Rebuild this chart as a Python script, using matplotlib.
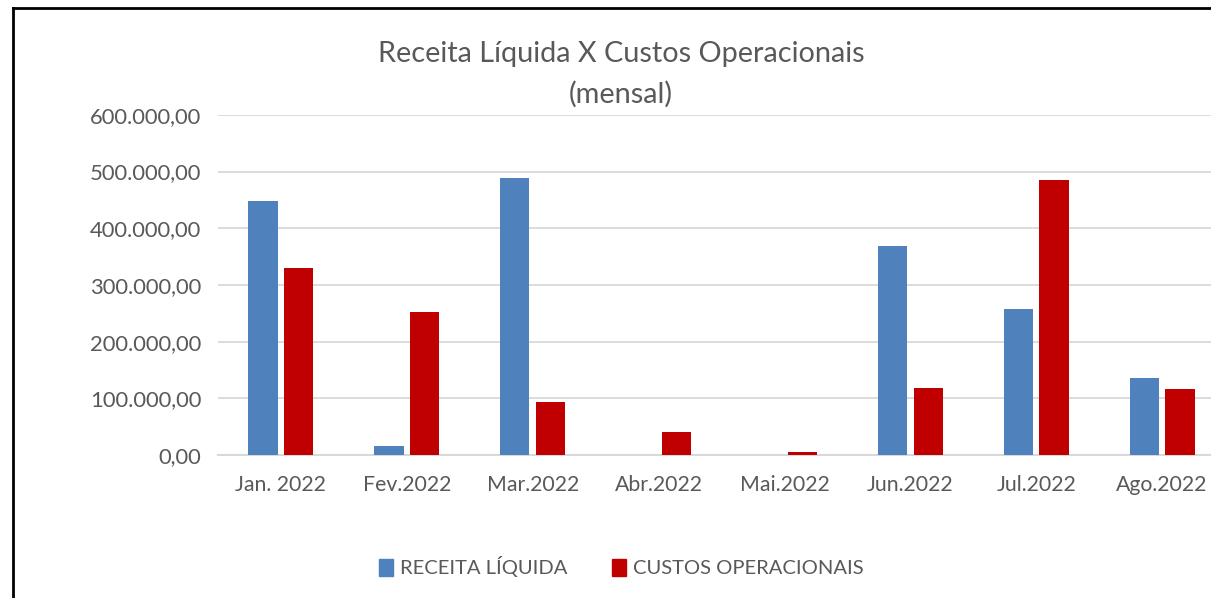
import matplotlib
matplotlib.use("Agg")
import matplotlib.pyplot as plt
import numpy as np
from matplotlib.ticker import FuncFormatter
from matplotlib.patches import Rectangle
from matplotlib.lines import Line2D

categories = ["Jan. 2022", "Fev.2022", "Mar.2022", "Abr.2022", "Mai.2022", "Jun.2022", "Jul.2022", "Ago.2022"]
receita = [448000, 16000, 489000, 0, 0, 368000, 258000, 136000]
custos = [330000, 252000, 93000, 40000, 5000, 118000, 485000, 116000]
yticks = [0, 100000, 200000, 300000, 400000, 500000, 600000]

plt.rcParams['font.family'] = ['Lato', 'DejaVu Sans']
fig = plt.figure(figsize=(12.11, 5.98), dpi=100)
ax = fig.add_axes([0.18, 0.239, 0.8316, 0.569])

x = np.arange(len(categories))
w = 0.232
gap = 0.052
ax.bar(x - (w + gap) / 2, receita, w, color="#4f81bd", label="RECEITA LÍQUIDA", zorder=3)
ax.bar(x + (w + gap) / 2, custos, w, color="#c00000", label="CUSTOS OPERACIONAIS", zorder=3)

ax.set_xlim(-0.5, len(categories) - 0.5)
ax.set_ylim(0, 600000)
ax.set_yticks(yticks)

def fmt(v, pos):
    s = f"{v:,.2f}"
    return s.replace(",", "X").replace(".", ",").replace("X", ".")

ax.yaxis.set_major_formatter(FuncFormatter(fmt))
ax.set_xticks(x)
ax.set_xticklabels(categories)
ax.tick_params(axis='both', length=0, labelcolor="#595959")
ax.tick_params(axis='x', pad=14, labelsize=15.3)
ax.tick_params(axis='y', pad=12, labelsize=15.8)
ax.grid(axis='y', color="#d9d9d9", linewidth=1.3, zorder=0)
for s in ["top", "right", "left"]:
    ax.spines[s].set_visible(False)
ax.spines["bottom"].set_color("#d9d9d9")
ax.spines["bottom"].set_linewidth(1.5)

fig.text(0.513, 0.91, "Receita Líquida X Custos Operacionais", ha="center", va="center",
         fontsize=20.8, color="#595959")
fig.text(0.513, 0.843, "(mensal)", ha="center", va="center", fontsize=20.8, color="#595959")

leg = fig.legend(handles=[Rectangle((0, 0), 1, 1, color="#4f81bd"), Rectangle((0, 0), 1, 1, color="#c00000")],
                 labels=["RECEITA LÍQUIDA", "CUSTOS OPERACIONAIS"],
                 loc="center", bbox_to_anchor=(0.513, 0.052), ncol=2, frameon=False,
                 fontsize=14.5, handlelength=0.7, handleheight=0.9, handletextpad=0.35,
                 columnspacing=2.2)
for t in leg.get_texts():
    t.set_color("#595959")

# outer chart border (left and top)
fig.add_artist(Line2D([0.0105, 0.0105], [0.0, 0.986], color="black", linewidth=2, transform=fig.transFigure))
fig.add_artist(Line2D([0.0105, 1.0], [0.986, 0.986], color="black", linewidth=2, transform=fig.transFigure))

fig.savefig("out.png", dpi=100)
